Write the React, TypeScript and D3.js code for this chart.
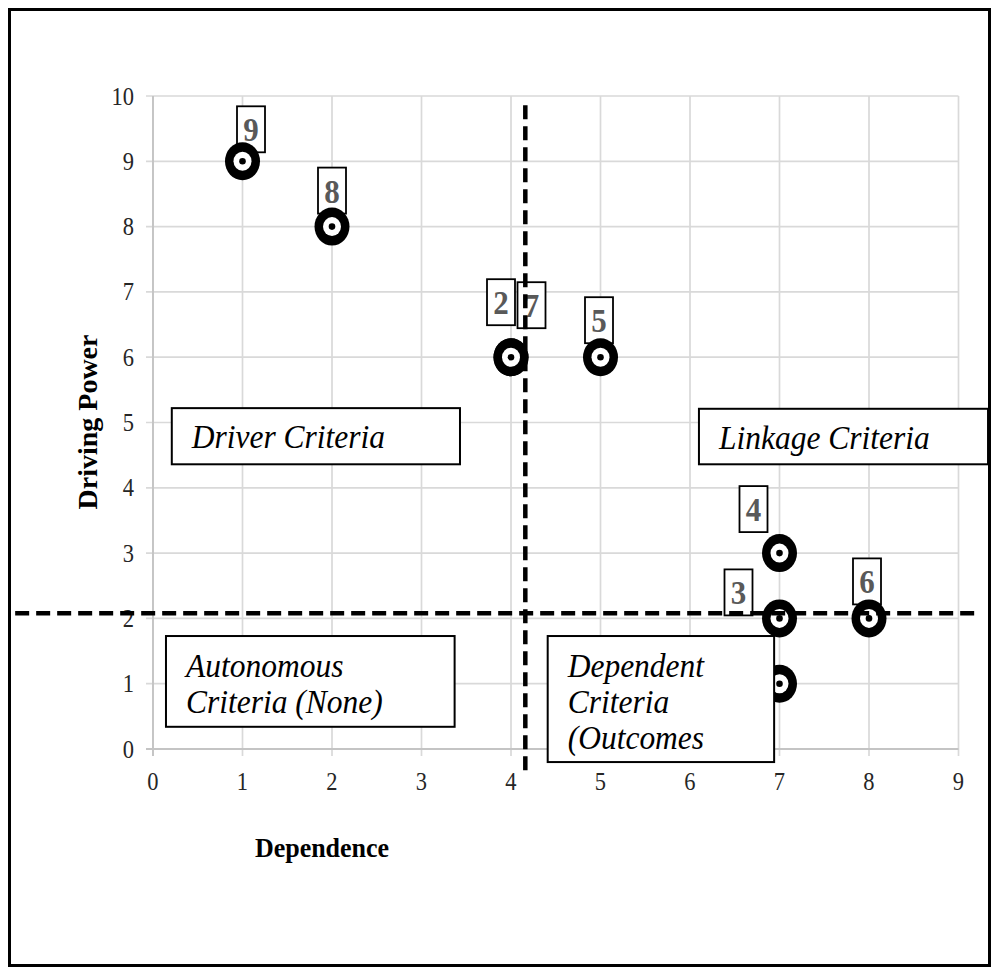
import React from "react";
import * as d3 from "d3";

// ---- Data ----
const pointIds = ["9", "8", "2", "7", "5", "4", "3", "6", "1"];
const dependence = [1, 2, 4, 4, 5, 7, 7, 8, 7];
const drivingPower = [9, 8, 6, 6, 6, 3, 2, 2, 1];
const xTicks = [0, 1, 2, 3, 4, 5, 6, 7, 8, 9];
const yTicks = [0, 1, 2, 3, 4, 5, 6, 7, 8, 9, 10];
const dependenceCut = 4.16;
const drivingCut = 2.08;
const quadrantLabels = [
  ["Driver Criteria"],
  ["Linkage Criteria"],
  ["Autonomous", "Criteria (None)"],
  ["Dependent", "Criteria", "(Outcomes"],
];

// ---- Layout (pixel offsets / annotation extents in data units) ----
const labelDx = [8.5, 0, -10, 20.5, -1.5, -26, -41, -2, -41];
const labelDy = [-32, -36, -55, -52, -37, -44, -26, -37, -17];
const quadBoxes = [
  { x0: 0.21, x1: 3.43, y0: 5.22, y1: 4.36 },
  { x0: 6.1, x1: 9.33, y0: 5.21, y1: 4.36 },
  { x0: 0.145, x1: 3.37, y0: 1.73, y1: 0.34 },
  { x0: 4.41, x1: 6.94, y0: 1.73, y1: -0.2 },
];

const W = 991;
const H = 968;

export default function App() {
  const x = d3.scaleLinear().domain([0, 9]).range([153, 958.5]);
  const y = d3.scaleLinear().domain([0, 10]).range([749, 96]);
  const serif = "'Liberation Serif', 'Times New Roman', serif";
  const grid = "#d9d9d9";
  const st = (px: number, py: number, s = 1.12) => `translate(${px},${py}) scale(1,${s})`;

  return (
    <svg
      width={W}
      height={H}
      style={{ position: "absolute", left: 0, top: 0, background: "#fff" }}
      fontFamily={serif}
    >
      <rect x={0} y={0} width={W} height={H} fill="#fff" />
      {/* outer frame */}
      <rect x={9.5} y={9.5} width={980} height={956} fill="none" stroke="#000" strokeWidth={3} />

      {/* gridlines */}
      {yTicks.map((t) => (
        <line key={"gy" + t} x1={x(0) - 7} x2={x(9)} y1={y(t)} y2={y(t)} stroke={grid} strokeWidth={1.7} />
      ))}
      {xTicks.map((t) => (
        <line key={"gx" + t} x1={x(t)} x2={x(t)} y1={y(10)} y2={y(0) + 7} stroke={grid} strokeWidth={1.7} />
      ))}
      {/* axis lines */}
      <line x1={x(0)} x2={x(0)} y1={y(10)} y2={y(0) + 7} stroke="#c4c4c4" strokeWidth={1.9} />
      <line x1={x(0) - 7} x2={x(9)} y1={y(0)} y2={y(0)} stroke="#c4c4c4" strokeWidth={1.9} />

      {/* tick labels */}
      {yTicks.map((t) => (
        <text key={"ly" + t} transform={st(x(0) - 19, y(t) + 8.5, 1.15)} textAnchor="end" fontSize={22.5} fill="#262626">
          {t}
        </text>
      ))}
      {xTicks.map((t) => (
        <text key={"lx" + t} transform={st(x(t), 790, 1.15)} textAnchor="middle" fontSize={22.5} fill="#262626">
          {t}
        </text>
      ))}

      {/* axis titles */}
      <text transform={st(322, 857, 1.08)} textAnchor="middle" fontSize={26} fontWeight="bold" fill="#000">
        Dependence
      </text>
      <text
        transform={`translate(97,422) rotate(-90)`}
        textAnchor="middle"
        fontSize={28}
        fontWeight="bold"
        fill="#000"
      >
        Driving Power
      </text>

      {/* point labels (boxes) */}
      {pointIds.map((id, i) => {
        const cx = x(dependence[i]) + labelDx[i];
        const cy = y(drivingPower[i]) + labelDy[i];
        return (
          <g key={"lab" + id}>
            <rect x={cx - 14} y={cy - 23} width={28} height={46} fill="#fff" stroke="#000" strokeWidth={1.8} />
            <text transform={st(cx, cy + 12, 1.1)} textAnchor="middle" fontSize={31} fontWeight="bold" fill="#595959">
              {id}
            </text>
          </g>
        );
      })}

      {/* points */}
      {pointIds.map((id, i) => {
        const cx = x(dependence[i]);
        const cy = y(drivingPower[i]);
        return (
          <g key={"pt" + id}>
            <ellipse cx={cx} cy={cy} rx={17.5} ry={19} fill="#000" />
            <ellipse cx={cx} cy={cy} rx={9} ry={9.5} fill="#fff" />
            <circle cx={cx} cy={cy} r={3.3} fill="#000" />
          </g>
        );
      })}

      {/* quadrant boxes */}
      {quadBoxes.map((b, i) => {
        const bx = x(b.x0);
        const by = y(b.y0);
        const bw = x(b.x1) - x(b.x0);
        const bh = y(b.y1) - y(b.y0);
        const lines = quadrantLabels[i];
        const single = lines.length === 1;
        return (
          <g key={"q" + i}>
            <rect x={bx} y={by} width={bw} height={bh} fill="#fff" stroke="#000" strokeWidth={2} />
            {lines.map((ln, j) => (
              <text
                key={j}
                transform={st(bx + 20, single ? by + 40 : by + 41 + j * 36, 1.08)}
                fontSize={31.5}
                fontStyle="italic"
                fill="#000"
              >
                {ln}
              </text>
            ))}
          </g>
        );
      })}

      {/* threshold dashed lines */}
      <line
        x1={x(dependenceCut)}
        x2={x(dependenceCut)}
        y1={y(9.86)}
        y2={y(-0.4)}
        stroke="#000"
        strokeWidth={4.5}
        strokeDasharray="14 7"
      />
      <line
        x1={x(-1.54)}
        x2={x(9.18)}
        y1={y(drivingCut)}
        y2={y(drivingCut)}
        stroke="#000"
        strokeWidth={4.5}
        strokeDasharray="14 7"
      />
    </svg>
  );
}
